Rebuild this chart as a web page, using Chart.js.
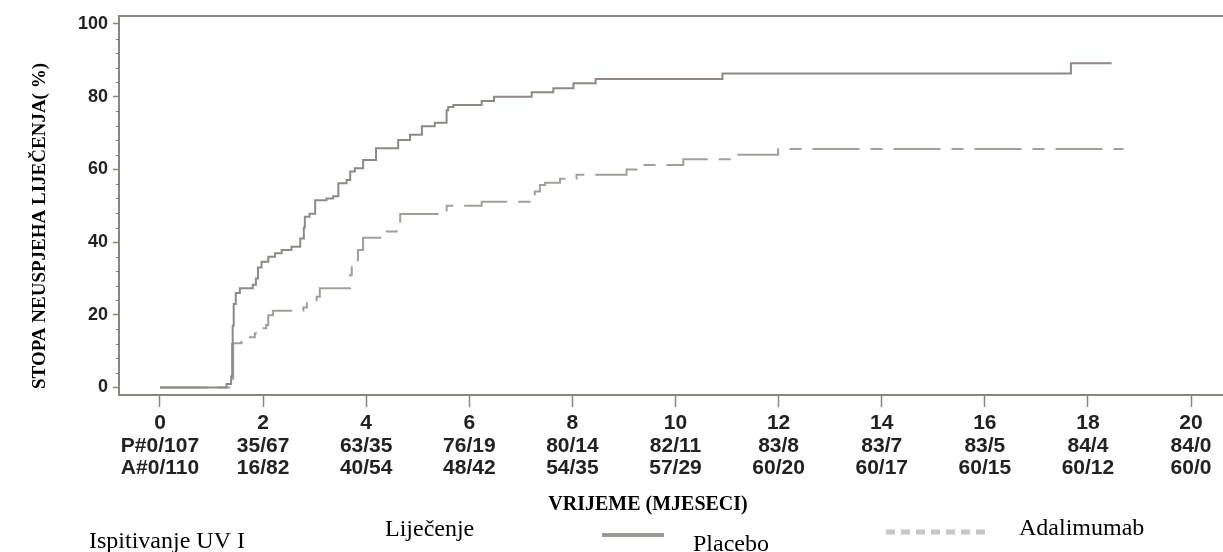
<!DOCTYPE html>
<html>
<head>
<meta charset="utf-8">
<script src="https://cdn.jsdelivr.net/npm/chart.js@4.4.1/dist/chart.umd.min.js"></script>
<style>
  html, body { margin: 0; padding: 0; background: #fff; }
  #wrap { width: 1223px; height: 552px; position: relative; }
</style>
</head>
<body>
<div id="wrap"><canvas id="chart"></canvas></div>
<script>
const monthTicks = [0, 2, 4, 6, 8, 10, 12, 14, 16, 18, 20];
const placeboAtRisk = ['P#0/107', '35/67', '63/35', '76/19', '80/14', '82/11', '83/8', '83/7', '83/5', '84/4', '84/0'];
const adalimumabAtRisk = ['A#0/110', '16/82', '40/54', '48/42', '54/35', '57/29', '60/20', '60/17', '60/15', '60/12', '60/0'];
const rateTicks = [0, 20, 40, 60, 80, 100];
const rateMinorTicks = [4, 8, 12, 16, 24, 28, 32, 36, 44, 48, 52, 56, 64, 68, 72, 76, 84, 88, 92, 96];

// Kaplan-Meier steps: month where the step happens, new rate (%)
const placeboMonths = [0, 1.29, 1.38, 1.40, 1.41, 1.43, 1.47, 1.55, 1.80, 1.86, 1.90, 1.97, 2.10, 2.23, 2.36, 2.55, 2.72, 2.79, 2.81, 2.90, 3.01, 3.23, 3.36, 3.46, 3.62, 3.69, 3.78, 3.94, 4.19, 4.62, 4.85, 5.08, 5.33, 5.56, 5.59, 5.69, 6.24, 6.48, 7.21, 7.63, 8.02, 8.45, 10.91, 17.67, 18.46];
const placeboRate = [0, 1, 3, 12, 17, 23, 26, 27.3, 28.3, 30, 33, 34.6, 36, 36.9, 37.8, 38.7, 41, 44, 47, 47.8, 51.5, 52, 52.6, 56.2, 57.1, 59.4, 60.3, 62.6, 65.8, 68.1, 69.5, 71.9, 72.8, 76.3, 77.2, 77.7, 78.8, 80, 81.2, 82.3, 83.7, 84.9, 86.4, 89.2, 89.2];
const adalimumabMonths = [0, 1.42, 1.58, 1.84, 1.94, 2.06, 2.10, 2.19, 2.78, 2.85, 3.04, 3.10, 3.69, 3.72, 3.84, 3.94, 4.40, 4.59, 4.66, 5.56, 6.24, 7.18, 7.27, 7.37, 7.47, 7.76, 8.08, 9.05, 9.25, 10.15, 11.09, 11.99, 18.69];
const adalimumabRate = [0, 12.2, 13.8, 14.9, 16.3, 17.2, 19.9, 21.1, 22, 23.2, 25, 27.3, 31, 35, 37.8, 41.2, 42.9, 45.2, 47.7, 50, 51.1, 52.5, 53.9, 55.7, 56.3, 57.4, 58.5, 60, 61.2, 62.8, 64, 65.6, 65.6];

const seriesNames = ['Placebo', 'Adalimumab'];
const xTitle = 'VRIJEME (MJESECI)';
const yTitle = 'STOPA NEUSPJEHA LIJEČENJA( %)';
const studyLabel = 'Ispitivanje UV I';
const treatmentLabel = 'Liječenje';

const frameColor = '#8a857f';
const placeboColor = '#8e8985';
const adalimumabColor = '#a29e9a';
const sansFont = "'Liberation Sans', Arial, sans-serif";
const serifFont = "'Liberation Serif', 'Times New Roman', serif";

const toPoints = (xs, ys) => xs.map((x, i) => ({ x, y: ys[i] }));

const decorPlugin = {
  id: 'decor',
  afterDraw(chart) {
    const { ctx, chartArea } = chart;
    const yScale = chart.scales.y;
    ctx.save();

    // top edge of the frame (right edge runs off the picture)
    ctx.strokeStyle = frameColor;
    ctx.lineWidth = 2;
    ctx.beginPath();
    ctx.moveTo(chartArea.left - 1, chartArea.top);
    ctx.lineTo(chartArea.right + 5, chartArea.top);
    ctx.stroke();

    // small ticks between the labelled ones
    ctx.strokeStyle = '#8c7c7a';
    ctx.lineWidth = 1;
    rateMinorTicks.forEach(v => {
      const py = Math.round(yScale.getPixelForValue(v)) + 0.5;
      ctx.beginPath();
      ctx.moveTo(chartArea.left - 3, py);
      ctx.lineTo(chartArea.left, py);
      ctx.stroke();
    });

    // axis titles
    ctx.fillStyle = '#000';
    ctx.textAlign = 'center';
    ctx.textBaseline = 'middle';
    ctx.font = 'bold 20px ' + serifFont;
    ctx.fillText(xTitle, 648, 505);
    ctx.save();
    ctx.translate(40, 226);
    ctx.rotate(-Math.PI / 2);
    ctx.font = 'bold 19px ' + serifFont;
    ctx.fillText(yTitle, 0, 0);
    ctx.restore();

    // legend row under the chart
    ctx.textAlign = 'left';
    ctx.font = '24px ' + serifFont;
    ctx.fillText(studyLabel, 89, 542);
    ctx.fillText(treatmentLabel, 385, 530);
    ctx.fillText(seriesNames[0], 693, 545);
    ctx.fillText(seriesNames[1], 1019, 529);

    ctx.strokeStyle = '#9c9a97';
    ctx.lineWidth = 4;
    ctx.beginPath();
    ctx.moveTo(602, 535);
    ctx.lineTo(664, 535);
    ctx.stroke();

    ctx.strokeStyle = '#c6c6c6';
    ctx.lineWidth = 5;
    ctx.setLineDash([9, 6]);
    ctx.beginPath();
    ctx.moveTo(886, 532);
    ctx.lineTo(986, 532);
    ctx.stroke();
    ctx.restore();
  },
};

new Chart(document.getElementById('chart'), {
  type: 'line',
  data: {
    datasets: [
      {
        label: seriesNames[0],
        data: toPoints(placeboMonths, placeboRate),
        borderColor: placeboColor,
        borderWidth: 2,
        stepped: 'before',
        pointRadius: 0,
        fill: false,
      },
      {
        label: seriesNames[1],
        data: toPoints(adalimumabMonths, adalimumabRate),
        borderColor: adalimumabColor,
        borderWidth: 2,
        borderDash: [47, 11, 12, 11],
        stepped: 'before',
        pointRadius: 0,
        fill: false,
      },
    ],
  },
  options: {
    responsive: true,
    maintainAspectRatio: false,
    animation: false,
    layout: { padding: { top: 16, left: 0, right: 0, bottom: 0 } },
    plugins: {
      legend: { display: false },
      tooltip: { enabled: false },
    },
    scales: {
      x: {
        type: 'linear',
        min: -0.795,
        max: 20.62,
        afterBuildTicks: scale => { scale.ticks = monthTicks.map(v => ({ value: v })); },
        afterFit: scale => { scale.height = 157; },
        border: { display: true, color: frameColor, width: 2 },
        grid: { drawOnChartArea: false, tickLength: 12, tickColor: frameColor, tickWidth: 1.5 },
        ticks: {
          autoSkip: false,
          maxRotation: 0,
          padding: 5,
          color: '#222',
          font: { family: sansFont, size: 21, weight: 'bold', lineHeight: 1.08 },
          callback: (value, i) => [String(monthTicks[i]), placeboAtRisk[i], adalimumabAtRisk[i]],
        },
      },
      y: {
        type: 'linear',
        min: -2.06,
        max: 102.2,
        afterBuildTicks: scale => { scale.ticks = rateTicks.map(v => ({ value: v })); },
        afterFit: scale => { scale.width = 119; },
        border: { display: true, color: frameColor, width: 2 },
        grid: { drawOnChartArea: false, tickLength: 6, tickColor: frameColor, tickWidth: 1.5 },
        ticks: {
          padding: 5,
          color: '#222',
          font: { family: sansFont, size: 18, weight: 'bold' },
        },
      },
    },
  },
  plugins: [decorPlugin],
});
</script>
</body>
</html>
